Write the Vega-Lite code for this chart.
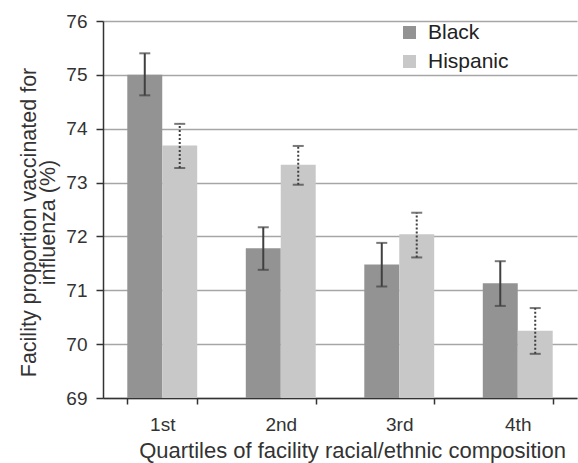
{
  "$schema": "https://vega.github.io/schema/vega-lite/v6.json",
  "width": 474,
  "height": 377,
  "autosize": {"type": "none"},
  "padding": {"left": 103, "top": 21, "right": 1, "bottom": 65},
  "background": "white",
  "config": {
    "font": "Liberation Sans",
    "view": {"stroke": null},
    "axis": {"labelFont": "Liberation Sans", "titleFont": "Liberation Sans", "labelColor": "#333333", "titleColor": "#333333", "titleFontWeight": "normal"}
  },
  "data": {
    "values": [
      {"quartile": "1st", "group": "Black", "value": 75.0, "lo": 74.62, "hi": 75.4},
      {"quartile": "1st", "group": "Hispanic", "value": 73.69, "lo": 73.27, "hi": 74.09},
      {"quartile": "2nd", "group": "Black", "value": 71.78, "lo": 71.38, "hi": 72.17},
      {"quartile": "2nd", "group": "Hispanic", "value": 73.33, "lo": 72.96, "hi": 73.68},
      {"quartile": "3rd", "group": "Black", "value": 71.48, "lo": 71.07, "hi": 71.88},
      {"quartile": "3rd", "group": "Hispanic", "value": 72.04, "lo": 71.61, "hi": 72.44},
      {"quartile": "4th", "group": "Black", "value": 71.13, "lo": 70.71, "hi": 71.54},
      {"quartile": "4th", "group": "Hispanic", "value": 70.25, "lo": 69.82, "hi": 70.67}
    ]
  },
  "encoding": {
    "x": {
      "field": "quartile", "type": "nominal",
      "scale": {"paddingInner": 0.41, "paddingOuter": 0.205},
      "axis": {
        "title": "Quartiles of facility racial/ethnic composition",
        "titleFontSize": 22, "labelFontSize": 19, "labelAngle": 0,
        "labelPadding": 11, "titlePadding": 6, "titleX": 249,
        "tickBand": "extent", "tickSize": 6, "tickColor": "#333333",
        "domainColor": "#333333", "domainWidth": 1.5, "tickWidth": 1.5
      }
    },
    "xOffset": {"field": "group", "type": "nominal"}
  },
  "layer": [
    {
      "mark": {"type": "bar"},
      "encoding": {
        "y": {
          "field": "value", "type": "quantitative",
          "scale": {"domain": [69, 76], "nice": false, "zero": false},
          "axis": {
            "title": ["Facility proportion vaccinated for", "influenza (%)"],
            "titleFontSize": 21.5, "titleLineHeight": 19, "labelFontSize": 19,
            "titleAlign": "center", "titleAnchor": "middle", "titleY": 201,
            "values": [69, 70, 71, 72, 73, 74, 75, 76], "labelOverlap": false, "format": "d",
            "grid": true, "gridColor": "#a6a6a6", "gridWidth": 1.5,
            "tickColor": "#333333", "tickSize": 7, "tickWidth": 1.5,
            "domainColor": "#333333", "domainWidth": 1.5,
            "labelPadding": 9, "titlePadding": 6
          }
        },
        "y2": {"datum": 69},
        "color": {
          "field": "group", "type": "nominal",
          "scale": {"domain": ["Black", "Hispanic"], "range": ["#939393", "#c8c8c8"]},
          "legend": {
            "title": null, "orient": "none", "legendX": 296, "legendY": 1,
            "symbolType": "square", "symbolSize": 169, "symbolStrokeWidth": 0,
            "labelFontSize": 21, "labelColor": "#222222", "rowPadding": 7, "labelOffset": 8
          }
        }
      }
    },
    {
      "transform": [{"filter": "datum.group === 'Black'"}],
      "mark": {"type": "rule", "color": "#404040", "strokeWidth": 2},
      "encoding": {
        "y": {"field": "lo", "type": "quantitative"},
        "y2": {"field": "hi"}
      }
    },
    {
      "transform": [{"filter": "datum.group === 'Hispanic'"}],
      "mark": {"type": "rule", "color": "#404040", "strokeWidth": 2, "strokeDash": [2, 2]},
      "encoding": {
        "y": {"field": "lo", "type": "quantitative"},
        "y2": {"field": "hi"}
      }
    },
    {
      "transform": [{"fold": ["lo", "hi"], "as": ["k", "v"]}, {"filter": "datum.group === 'Black'"}],
      "mark": {"type": "tick", "color": "#404040", "thickness": 2, "size": 11, "orient": "horizontal"},
      "encoding": {
        "y": {"field": "v", "type": "quantitative"}
      }
    },
    {
      "transform": [{"fold": ["lo", "hi"], "as": ["k", "v"]}, {"filter": "datum.group === 'Hispanic'"}],
      "mark": {"type": "tick", "color": "#404040", "thickness": 2, "size": 11, "orient": "horizontal", "strokeDash": [2, 2]},
      "encoding": {
        "y": {"field": "v", "type": "quantitative"}
      }
    }
  ]
}
